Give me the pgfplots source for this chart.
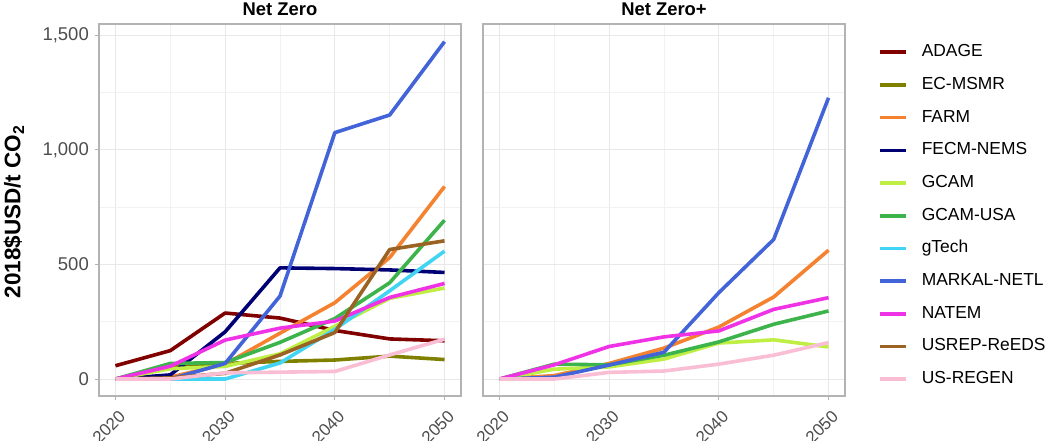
\documentclass[border=0pt]{standalone}
\usepackage{fontspec}
\setmainfont{Liberation Sans}
\usepackage{pgfplots}
\pgfplotsset{compat=1.18}
\usepackage{pgfplotstable}

\definecolor{cADAGE}{HTML}{800000}
\definecolor{cECMSMR}{HTML}{808000}
\definecolor{cFARM}{HTML}{F58231}
\definecolor{cFECM}{HTML}{000075}
\definecolor{cGCAM}{HTML}{BFEF45}
\definecolor{cGCAMUSA}{HTML}{3CB44B}
\definecolor{cgTech}{HTML}{42D4F4}
\definecolor{cMARKAL}{HTML}{4363D8}
\definecolor{cNATEM}{HTML}{F032E6}
\definecolor{cUSREP}{HTML}{9A6324}
\definecolor{cUSREGEN}{HTML}{FABED4}
\definecolor{gridc}{HTML}{E8E8E8}
\definecolor{minorc}{HTML}{F2F2F2}
\definecolor{borderc}{HTML}{B3B3B3}
\definecolor{tickc}{HTML}{4D4D4D}

\pgfplotstableread{
year ADAGE ECMSMR FARM FECM GCAM GCAMUSA gTech MARKAL NATEM USREP USREGEN
2020 58 0 0 0 0 0 0 0 0 0 0
2025 124 58 8 18 45 68 0 0 56 5 0
2030 288 68 65 206 55 72 0 68 170 25 27
2035 266 77 200 485 110 160 70 362 222 105 30
2040 212 83 333 482 230 264 217 1075 253 203 33
2045 175 100 530 476 352 420 385 1152 356 565 105
2050 167 85 840 465 397 693 558 1472 417 603 174
}\nzdata

\pgfplotstableread{
year FARM GCAM GCAMUSA MARKAL NATEM USREGEN
2020 0 0 0 0 0 0
2025 15 43 65 8 62 0
2030 68 53 62 61 142 29
2035 135 87 104 117 184 35
2040 227 157 162 377 210 65
2045 358 171 239 609 304 104
2050 562 140 297 1227 355 159
}\nzpdata

\pgfplotsset{
  facet/.style={
    scale only axis, width=362bp, height=372bp,
    anchor=south west,
    xmin=2018.5, xmax=2051.5, ymin=-74, ymax=1549,
    xtick={2020,2030,2040,2050}, xticklabels={2020,2030,2040,2050},
    minor xtick={2025,2035,2045},
    ytick={0,500,1000,1500}, minor ytick={250,750,1250},
    grid=both,
    major grid style={color=gridc, line width=1bp},
    minor grid style={color=minorc, line width=0.6bp},
    axis line style={color=borderc, line width=1.3bp},
    tick pos=left, tick align=outside,
    major tick length=4bp, minor tick length=0pt,
    tick style={color=borderc, line width=1bp},
    xticklabel style={font=\fontsize{17bp}{19bp}\selectfont, color=tickc,
      rotate=45, anchor=north east, inner sep=0pt, xshift=-4.8bp, yshift=-8.2bp},
    yticklabel style={font=\fontsize{18.5bp}{20bp}\selectfont, color=tickc,
      anchor=east, inner sep=0pt, xshift=-6bp},
    title style={font=\bfseries\fontsize{18.4bp}{20bp}\selectfont,
      at={(0.5,1)}, anchor=base, yshift=3bp},
    every axis plot/.append style={line width=3.6bp, mark=none, line join=round},
    legend image code/.code={\draw[#1] (0bp,0bp) -- (26bp,0bp);},
  }
}

\begin{document}
\begin{tikzpicture}
\useasboundingbox (0,0) rectangle (1050bp,441bp);

\begin{axis}[facet, at={(99bp,45bp)}, title={Net Zero},
  yticklabels={0,500,{1,000},{1,500}},
  ylabel={\bfseries 2018\$USD/t CO\textsubscript{2}},
  ylabel style={font=\fontsize{22.5bp}{24bp}\selectfont, at={(axis description cs:-0.235,0.495)}, anchor=center},
]
\addplot[cADAGE] table[x=year,y=ADAGE]{\nzdata};
\addplot[cECMSMR] table[x=year,y=ECMSMR]{\nzdata};
\addplot[cFARM] table[x=year,y=FARM]{\nzdata};
\addplot[cFECM] table[x=year,y=FECM]{\nzdata};
\addplot[cGCAM] table[x=year,y=GCAM]{\nzdata};
\addplot[cGCAMUSA] table[x=year,y=GCAMUSA]{\nzdata};
\addplot[cgTech] table[x=year,y=gTech]{\nzdata};
\addplot[cMARKAL] table[x=year,y=MARKAL]{\nzdata};
\addplot[cNATEM] table[x=year,y=NATEM]{\nzdata};
\addplot[cUSREP] table[x=year,y=USREP]{\nzdata};
\addplot[cUSREGEN] table[x=year,y=USREGEN]{\nzdata};
\end{axis}

\begin{axis}[facet, at={(483bp,45bp)}, title={Net Zero+},
  yticklabels={}, y tick style={draw=none},
  legend style={at={(1,1)}, anchor=north west, xshift=33bp, yshift=-20bp,
    draw=none, fill=none, inner sep=0pt,
    font=\fontsize{17.4bp}{20bp}\selectfont,
    row sep=16.5bp,
    nodes={inner sep=0pt, text height=12.5bp, text depth=3.7bp},
    /tikz/every odd column/.append style={column sep=14bp}},
  legend cell align=left,
]
\addplot[cFARM, forget plot] table[x=year,y=FARM]{\nzpdata};
\addplot[cGCAM, forget plot] table[x=year,y=GCAM]{\nzpdata};
\addplot[cGCAMUSA, forget plot] table[x=year,y=GCAMUSA]{\nzpdata};
\addplot[cMARKAL, forget plot] table[x=year,y=MARKAL]{\nzpdata};
\addplot[cNATEM, forget plot] table[x=year,y=NATEM]{\nzpdata};
\addplot[cUSREGEN, forget plot] table[x=year,y=USREGEN]{\nzpdata};
\addlegendimage{cADAGE, line width=3.6bp}\addlegendentry{ADAGE}
\addlegendimage{cECMSMR, line width=3.6bp}\addlegendentry{EC-MSMR}
\addlegendimage{cFARM, line width=3.6bp}\addlegendentry{FARM}
\addlegendimage{cFECM, line width=3.6bp}\addlegendentry{FECM-NEMS}
\addlegendimage{cGCAM, line width=3.6bp}\addlegendentry{GCAM}
\addlegendimage{cGCAMUSA, line width=3.6bp}\addlegendentry{GCAM-USA}
\addlegendimage{cgTech, line width=3.6bp}\addlegendentry{gTech}
\addlegendimage{cMARKAL, line width=3.6bp}\addlegendentry{MARKAL-NETL}
\addlegendimage{cNATEM, line width=3.6bp}\addlegendentry{NATEM}
\addlegendimage{cUSREP, line width=3.6bp}\addlegendentry{USREP-ReEDS}
\addlegendimage{cUSREGEN, line width=3.6bp}\addlegendentry{US-REGEN}
\end{axis}
\end{tikzpicture}
\end{document}
